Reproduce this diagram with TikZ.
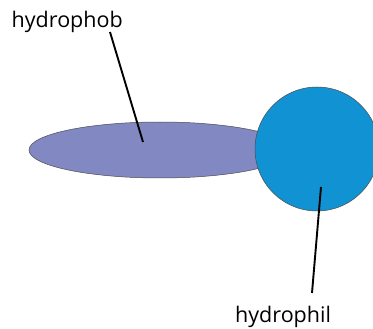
\documentclass[tikz,border=0pt]{standalone}
\usepackage{fontspec}
\setmainfont{Open Sans}
\definecolor{phobcol}{HTML}{8288C2}
\definecolor{philcol}{HTML}{1192D2}
\tikzset{
  lbl/.style={inner sep=0pt, anchor=base west, font=\fontsize{21.5}{24}\selectfont, text=black},
  leader/.style={draw=black, line width=1.9pt},
  shapeline/.style={draw=black!70, line width=0.5pt}
}
\begin{document}
\begin{tikzpicture}[x=1pt,y=-1pt]
\useasboundingbox (0,0) rectangle (373,329);
\clip (0,0) rectangle (373,329);
\fill[white] (0,0) rectangle (373,329);
\path[shapeline, fill=phobcol] (160,150) ellipse [x radius=131, y radius=28];
\node[shapeline, fill=philcol, circle, minimum size=124pt, inner sep=0pt] (head) at (317,149) {};
\node[lbl] (phob) at (11.5,27.7) {hydrophob};
\node[lbl] (phil) at (235,323) {hydrophil};
\coordinate (tailpt) at (143,142);
\coordinate (headpt) at (321,187);
\coordinate (phobend) at (110,32);
\coordinate (philend) at (312,293);
\draw[leader] (phobend) -- (tailpt);
\draw[leader] (philend) -- (headpt);
\end{tikzpicture}
\end{document}
